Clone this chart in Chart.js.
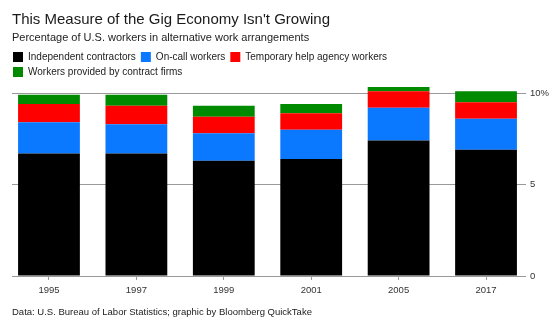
<!DOCTYPE html>
<html>
<head>
<meta charset="utf-8">
<script src="https://cdn.jsdelivr.net/npm/chart.js@4"></script>
<style>
  html, body { margin: 0; padding: 0; background: #fff; }
  #wrap { position: relative; width: 560px; height: 322px; overflow: hidden; font-family: "Liberation Sans", Arial, sans-serif; }
  #c { position: absolute; left: 0; top: 0; }
  .txt { position: absolute; left: 12px; white-space: nowrap; color: #1a1a1a; }
  #title { top: 10px; font-size: 15px; line-height: 18px; }
  #subtitle { top: 31px; font-size: 11px; line-height: 13px; color: #222; }
  #footer { top: 306px; font-size: 9.5px; line-height: 12px; color: #222; }
</style>
</head>
<body>
<div id="wrap">
  <canvas id="c" width="560" height="322"></canvas>
  <div class="txt" id="title">This Measure of the Gig Economy Isn't Growing</div>
  <div class="txt" id="subtitle">Percentage of U.S. workers in alternative work arrangements</div>
  <div class="txt" id="footer">Data: U.S. Bureau of Labor Statistics; graphic by Bloomberg QuickTake</div>
</div>
<script>
const years = ['1995', '1997', '1999', '2001', '2005', '2017'];
const independentContractors = [6.7, 6.7, 6.3, 6.4, 7.4, 6.9];
const onCallWorkers = [1.7, 1.6, 1.5, 1.6, 1.8, 1.7];
const temporaryHelp = [1.0, 1.0, 0.9, 0.9, 0.9, 0.9];
const contractFirms = [0.5, 0.6, 0.6, 0.5, 0.6, 0.6];
const seriesNames = ['Independent contractors', 'On-call workers', 'Temporary help agency workers', 'Workers provided by contract firms'];
const yTickValues = [0, 5, 10];

const toPoints = arr => arr.map((v, i) => ({ x: i, y: v }));
const colors = ['#000000', '#0a78ff', '#ff0000', '#008a00'];
const series = [independentContractors, onCallWorkers, temporaryHelp, contractFirms];

new Chart(document.getElementById('c'), {
  type: 'bar',
  data: {
    datasets: series.map((s, k) => ({
      label: seriesNames[k],
      data: toPoints(s),
      backgroundColor: colors[k],
      borderWidth: 0,
      categoryPercentage: 1,
      barPercentage: 0.707
    }))
  },
  options: {
    responsive: false,
    animation: false,
    layout: { padding: { left: 8, right: 0, top: 47, bottom: 26 } },
    plugins: {
      title: { display: false },
      tooltip: { enabled: false },
      legend: {
        display: true,
        position: 'top',
        align: 'start',
        labels: {
          boxWidth: 10,
          boxHeight: 10,
          padding: 5,
          color: '#222',
          font: { family: '"Liberation Sans", Arial, sans-serif', size: 10 }
        }
      }
    },
    scales: {
      x: {
        type: 'linear',
        stacked: true,
        offset: false,
        bounds: 'data',
        min: -0.423,
        max: 5.423,
        afterBuildTicks: s => { s.ticks = years.map((_, i) => ({ value: i })); },
        afterFit: s => { s.height = 20; },
        grid: { display: true, offset: false, drawOnChartArea: false, drawTicks: true, tickLength: 4, color: '#999' },
        border: { display: true, color: '#999', width: 1 },
        ticks: {
          padding: 5,
          color: '#333',
          font: { family: '"Liberation Sans", Arial, sans-serif', size: 9.5 },
          callback: v => years[v]
        }
      },
      y: {
        type: 'linear',
        stacked: true,
        position: 'right',
        min: 0,
        max: 10.33,
        afterBuildTicks: s => { s.ticks = yTickValues.map(v => ({ value: v })); },
        afterFit: s => { s.width = 37; },
        grid: { display: true, drawTicks: true, tickLength: 3, color: '#999' },
        border: { display: false },
        ticks: {
          padding: 4,
          color: '#333',
          font: { family: '"Liberation Sans", Arial, sans-serif', size: 9.5 },
          callback: v => (v === 10 ? '10%' : String(v))
        }
      },
      yLeftSpacer: {
        type: 'linear',
        position: 'left',
        display: true,
        grid: { display: false },
        border: { display: false },
        ticks: { display: false },
        afterFit: s => { s.width = 4; }
      }
    }
  }
});
</script>
</body>
</html>
